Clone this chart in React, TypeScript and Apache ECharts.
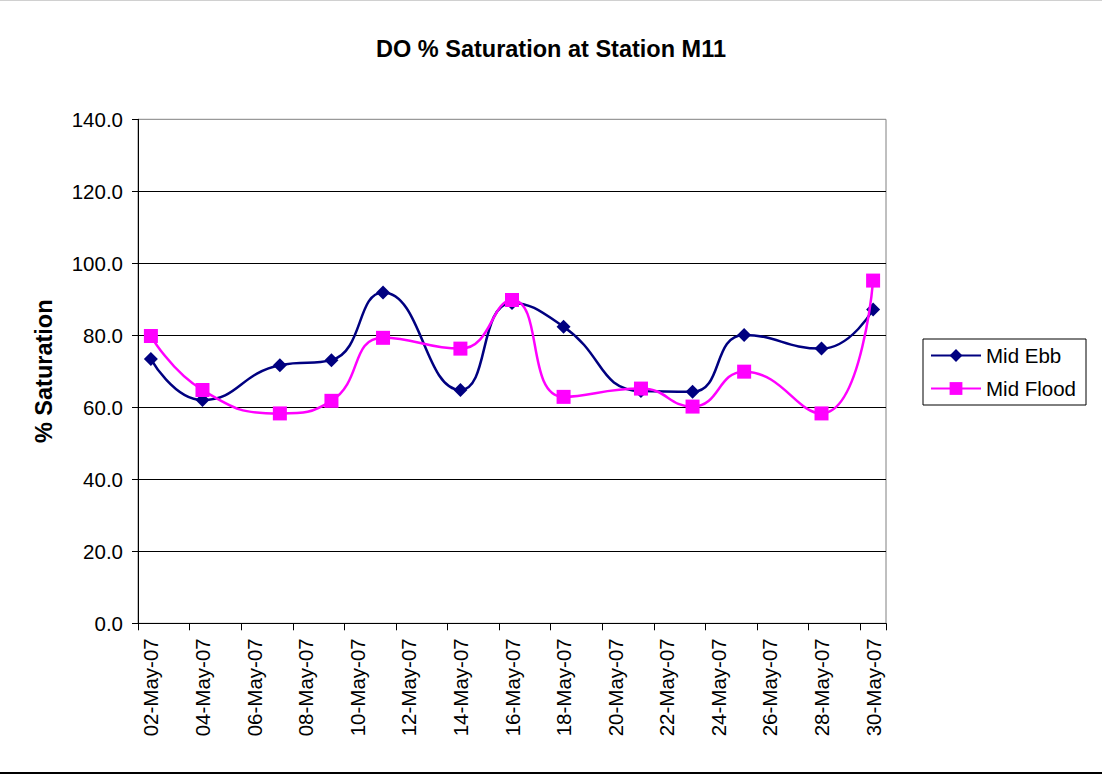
import React, { useEffect, useRef } from "react";
import * as echarts from "echarts";

const categories: string[] = [
  "02-May-07", "03-May-07", "04-May-07", "05-May-07", "06-May-07", "07-May-07",
  "08-May-07", "09-May-07", "10-May-07", "11-May-07", "12-May-07", "13-May-07",
  "14-May-07", "15-May-07", "16-May-07", "17-May-07", "18-May-07", "19-May-07",
  "20-May-07", "21-May-07", "22-May-07", "23-May-07", "24-May-07", "25-May-07",
  "26-May-07", "27-May-07", "28-May-07", "29-May-07", "30-May-07",
];

const sampleDates: string[] = [
  "02-May-07", "04-May-07", "07-May-07", "09-May-07", "11-May-07", "14-May-07",
  "16-May-07", "18-May-07", "21-May-07", "23-May-07", "25-May-07", "28-May-07",
  "30-May-07",
];

const midEbb: number[] = [73.4, 62.0, 71.7, 73.1, 91.9, 64.8, 89.0, 82.4, 64.5, 64.3, 80.1, 76.3, 87.2];
const midFlood: number[] = [79.8, 64.8, 58.3, 61.8, 79.3, 76.3, 89.8, 62.9, 65.2, 60.2, 69.9, 58.3, 95.2];

const yTicks: number[] = [0, 20, 40, 60, 80, 100, 120, 140];

function toSeries(values: number[]): (number | null)[] {
  return categories.map((c) => {
    const i = sampleDates.indexOf(c);
    return i >= 0 ? values[i] : null;
  });
}

const FONT = "'Liberation Sans', Arial, Helvetica, sans-serif";

export default function App() {
  const ref = useRef<HTMLDivElement>(null);
  useEffect(() => {
    if (!ref.current) return;
    const chart = echarts.init(ref.current, undefined, { renderer: "svg" });
    chart.setOption({
      animation: false,
      backgroundColor: "#ffffff",
      textStyle: { fontFamily: FONT, color: "#000" },
      title: {
        text: "DO % Saturation at Station M11",
        left: "center",
        top: 32,
        textStyle: { fontFamily: FONT, fontSize: 23.5, fontWeight: "bold", color: "#000" },
      },
      legend: {
        orient: "vertical",
        left: 923,
        top: 339,
        padding: [6, 10, 6, 7],
        itemGap: 12,
        itemWidth: 50,
        itemHeight: 16,
        backgroundColor: "#fff",
        borderColor: "#000",
        borderWidth: 1,
        borderRadius: 0,
        textStyle: { fontFamily: FONT, fontSize: 20.5, color: "#000" },
        data: ["Mid Ebb", "Mid Flood"],
      },
      grid: {
        left: 138,
        top: 119.3,
        right: 216,
        bottom: 152.7,
        show: true,
        borderColor: "#808080",
        borderWidth: 1,
        backgroundColor: "#fff",
        containLabel: false,
      },
      xAxis: {
        type: "category",
        data: categories,
        boundaryGap: true,
        axisLine: { lineStyle: { color: "#000", width: 1 } },
        axisTick: { show: true, interval: 1, length: 7, alignWithLabel: false, lineStyle: { color: "#000" } },
        axisLabel: {
          interval: 1,
          rotate: 90,
          margin: 15,
          fontFamily: FONT,
          fontSize: 20.5,
          color: "#000",
        },
        splitLine: { show: false },
      },
      yAxis: {
        type: "value",
        min: yTicks[0],
        max: yTicks[yTicks.length - 1],
        interval: 20,
        name: "% Saturation",
        nameLocation: "middle",
        nameGap: 82,
        nameRotate: 90,
        nameTextStyle: { fontFamily: FONT, fontSize: 23.5, fontWeight: "bold", color: "#000" },
        axisLine: { show: true, lineStyle: { color: "#000", width: 1 } },
        axisTick: { show: true, length: 6, lineStyle: { color: "#000" } },
        axisLabel: {
          margin: 15,
          fontFamily: FONT,
          fontSize: 20.5,
          color: "#000",
          formatter: (v: number) => v.toFixed(1),
        },
        splitLine: { show: true, showMaxLine: false, lineStyle: { color: "#000", width: 1 } },
      },
      series: [
        {
          name: "Mid Ebb",
          type: "line",
          data: toSeries(midEbb),
          connectNulls: true,
          smooth: 0.5,
          symbol: "diamond",
          symbolSize: 14,
          color: "#000080",
          itemStyle: { color: "#000080" },
          lineStyle: { color: "#000080", width: 2.5 },
          z: 3,
        },
        {
          name: "Mid Flood",
          type: "line",
          data: toSeries(midFlood),
          connectNulls: true,
          smooth: 0.5,
          symbol: "rect",
          symbolSize: 14,
          color: "#FF00FF",
          itemStyle: { color: "#FF00FF" },
          lineStyle: { color: "#FF00FF", width: 2.5 },
          z: 4,
        },
      ],
      graphic: [
        { type: "line", shape: { x1: 0, y1: 0.5, x2: 1102, y2: 0.5 }, style: { stroke: "#d0d0d0", lineWidth: 1 } },
        { type: "line", shape: { x1: 0, y1: 773, x2: 1102, y2: 773 }, style: { stroke: "#000", lineWidth: 2 } },
      ],
    });
    return () => chart.dispose();
  }, []);
  return (
    <div
      ref={ref}
      style={{ position: "absolute", left: 0, top: 0, width: 1102, height: 776 }}
    />
  );
}
